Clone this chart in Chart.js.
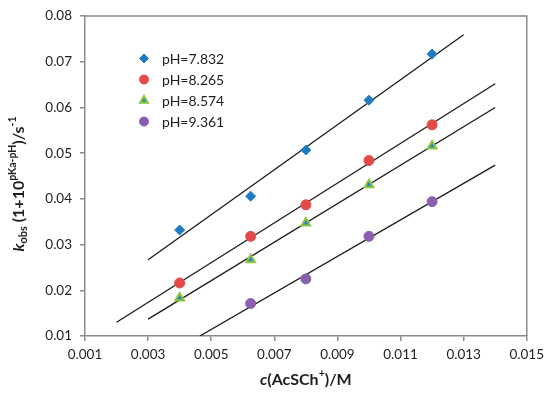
<!DOCTYPE html>
<html>
<head>
<meta charset="utf-8">
<script src="https://cdn.jsdelivr.net/npm/chart.js@4"></script>
<style>
html,body{margin:0;padding:0;background:#fff;}
#wrap{width:550px;height:395px;}
</style>
</head>
<body>
<div id="wrap"><canvas id="c" width="550" height="395"></canvas></div>
<script>
// ---- data ----
const concentrations = [0.004, 0.00625, 0.008, 0.010, 0.012];
const seriesNames = ['pH=7.832', 'pH=8.265', 'pH=8.574', 'pH=9.361'];
const kPH7832 = [0.0332, 0.0406, 0.0507, 0.0616, 0.0717];
const kPH8265 = [0.0216, 0.0318, 0.0387, 0.0484, 0.0562];
const kPH8574 = [0.0183, 0.0267, 0.0347, 0.0431, 0.0516];
const kPH9361 = [null, 0.0171, 0.0225, 0.0318, 0.0394];
// trend line end points (x, y)
const fitX7832 = [0.003, 0.013];   const fitY7832 = [0.0267, 0.0759];
const fitX8265 = [0.002, 0.014];   const fitY8265 = [0.0130, 0.0652];
const fitX8574 = [0.003, 0.014];   const fitY8574 = [0.0137, 0.0600];
const fitX9361 = [0.00464, 0.014]; const fitY9361 = [0.0100, 0.0474];
const xTicks = [0.001, 0.003, 0.005, 0.007, 0.009, 0.011, 0.013, 0.015];
const yTicks = [0.01, 0.02, 0.03, 0.04, 0.05, 0.06, 0.07, 0.08];

const FONT = 'Lato, "Open Sans", sans-serif';
const AXIS = '#8a8a8a';
const TEXT = '#1e1e1e';

function pts(xs, ys) {
  const out = [];
  xs.forEach((x, i) => { if (ys[i] !== null) out.push({x: x, y: ys[i]}); });
  return out;
}

const styles = [
  {pointStyle: 'rectRot', backgroundColor: '#1f7cc2', borderColor: '#1f7cc2', radius: 5, borderWidth: 1},
  {pointStyle: 'circle', backgroundColor: '#e24a4a', borderColor: '#e24a4a', radius: 5, borderWidth: 1},
  {pointStyle: 'triangle', backgroundColor: '#2a86c8', borderColor: '#8cc63f', radius: 5, borderWidth: 2},
  {pointStyle: 'circle', backgroundColor: '#8a5fb0', borderColor: '#8a5fb0', radius: 5, borderWidth: 1}
];
const seriesData = [kPH7832, kPH8265, kPH8574, kPH9361];
const fits = [[fitX7832, fitY7832], [fitX8265, fitY8265], [fitX8574, fitY8574], [fitX9361, fitY9361]];

const datasets = [];
seriesData.forEach((ys, i) => {
  const s = styles[i];
  datasets.push({
    label: seriesNames[i],
    data: pts(concentrations, ys),
    showLine: false,
    pointStyle: s.pointStyle,
    pointRadius: s.radius,
    pointBackgroundColor: s.backgroundColor,
    pointBorderColor: s.borderColor,
    pointBorderWidth: s.borderWidth,
    order: 0
  });
});
fits.forEach((f, i) => {
  datasets.push({
    label: 'fit ' + seriesNames[i],
    data: pts(f[0], f[1]),
    showLine: true,
    borderColor: '#1a1a1a',
    borderWidth: 1.3,
    pointRadius: 0,
    fill: false,
    order: 1
  });
});

function drawRich(ctx, segs, x, y, rotate) {
  ctx.save();
  ctx.translate(x, y);
  if (rotate) ctx.rotate(-Math.PI / 2);
  ctx.textBaseline = 'middle';
  ctx.textAlign = 'left';
  let total = 0;
  segs.forEach(s => { ctx.font = s.font; total += ctx.measureText(s.text).width; });
  let cx = -total / 2;
  ctx.fillStyle = TEXT;
  segs.forEach(s => {
    ctx.font = s.font;
    ctx.fillText(s.text, cx, s.dy || 0);
    cx += ctx.measureText(s.text).width;
  });
  ctx.restore();
}

const decor = {
  id: 'decor',
  afterDraw(chart) {
    const ctx = chart.ctx;
    const a = chart.chartArea;
    // frame on top and right
    ctx.save();
    ctx.strokeStyle = AXIS;
    ctx.lineWidth = 1.5;
    ctx.beginPath();
    ctx.moveTo(a.left, a.top);
    ctx.lineTo(a.right, a.top);
    ctx.lineTo(a.right, a.bottom);
    ctx.stroke();
    ctx.restore();

    // legend
    const lx = 144, ly0 = 58.5, dy = 21;
    seriesNames.forEach((name, i) => {
      const s = styles[i];
      const y = ly0 + i * dy;
      ctx.save();
      ctx.fillStyle = s.backgroundColor;
      ctx.strokeStyle = s.borderColor;
      ctx.lineWidth = s.borderWidth;
      Chart.helpers.drawPoint(ctx, {pointStyle: s.pointStyle, radius: s.radius - 0.5, borderWidth: s.borderWidth, rotation: 0}, lx, y);
      ctx.restore();
      ctx.save();
      ctx.font = '14px ' + FONT;
      ctx.fillStyle = TEXT;
      ctx.textBaseline = 'middle';
      ctx.fillText(name, 162, y + 0.5);
      ctx.restore();
    });

    // axis titles
    const big = 'bold 16px ' + FONT;
    const bigI = 'italic bold 16px ' + FONT;
    const small = 'bold 10.5px ' + FONT;
    drawRich(ctx, [
      {text: 'k', font: bigI},
      {text: 'obs', font: 'bold 11px ' + FONT, dy: 4},
      {text: ' (1+10', font: big},
      {text: 'pKa-pH', font: small, dy: -6},
      {text: ')/s', font: big},
      {text: '-1', font: small, dy: -6}
    ], 19, 184, true);
    drawRich(ctx, [
      {text: 'c', font: 'italic bold 16px ' + FONT},
      {text: '(AcSCh', font: 'bold 16px ' + FONT},
      {text: '+', font: 'bold 10.5px ' + FONT, dy: -6},
      {text: ')/M', font: 'bold 16px ' + FONT}
    ], (a.left + a.right) / 2, 380, false);
  }
};

new Chart(document.getElementById('c'), {
  type: 'scatter',
  data: {datasets: datasets},
  plugins: [decor],
  options: {
    responsive: false,
    animation: false,
    layout: {padding: {top: 14, right: 23, left: 0, bottom: 0}},
    plugins: {legend: {display: false}, tooltip: {enabled: false}},
    scales: {
      x: {
        type: 'linear',
        min: 0.001, max: 0.015,
        afterBuildTicks: s => { s.ticks = xTicks.map(v => ({value: v})); },
        afterFit: s => { s.height = 59; },
        grid: {display: true, drawOnChartArea: false, drawTicks: true, tickLength: 5, color: AXIS, lineWidth: 1.5},
        border: {display: true, color: AXIS, width: 1.5},
        ticks: {
          color: TEXT, padding: 6, maxRotation: 0, autoSkip: false,
          font: {family: FONT, size: 13.5},
          callback: v => Number(v).toFixed(3)
        },
        title: {display: false}
      },
      y: {
        type: 'linear',
        min: 0.01, max: 0.08,
        afterBuildTicks: s => { s.ticks = yTicks.map(v => ({value: v})); },
        afterFit: s => { s.width = 85; },
        grid: {display: true, drawOnChartArea: false, drawTicks: true, tickLength: 5, color: AXIS, lineWidth: 1.5},
        border: {display: true, color: AXIS, width: 1.5},
        ticks: {
          color: TEXT, padding: 8, autoSkip: false,
          font: {family: FONT, size: 13.5},
          callback: v => Number(v).toFixed(2)
        },
        title: {display: false}
      }
    }
  }
});
</script>
</body>
</html>
